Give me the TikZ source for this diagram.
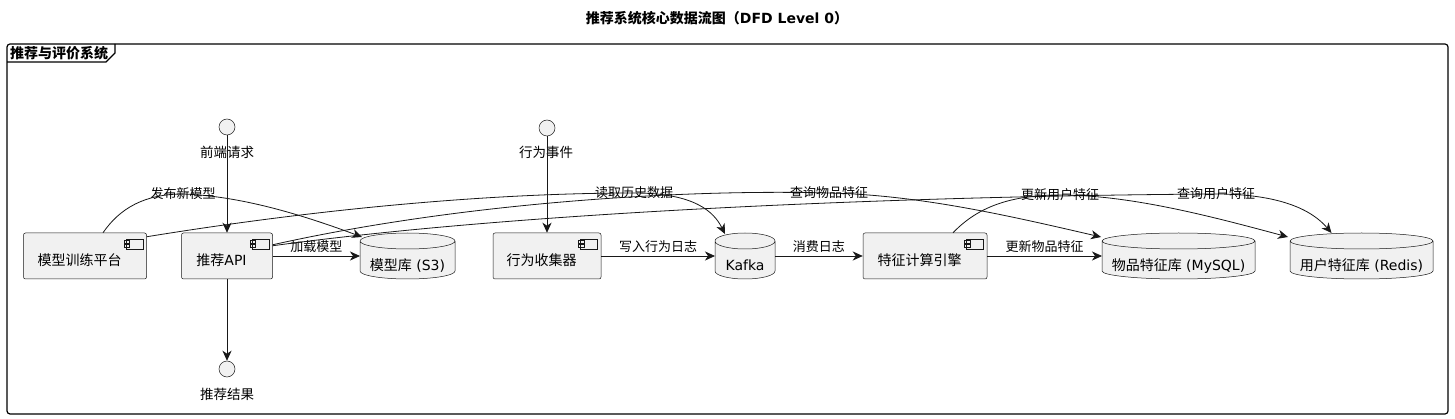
\documentclass[tikz,border=0pt]{standalone}
\usepackage{fontspec}
\setmainfont{DejaVu Sans}
\newfontfamily\cjk{Noto Sans CJK SC}
\usetikzlibrary{arrows.meta,backgrounds,calc}
\definecolor{umlfill}{HTML}{F1F1F1}
\definecolor{umlline}{HTML}{181818}
\tikzset{
  flow/.style={draw=umlline, line width=0.8pt, -{Stealth[length=10pt,width=9pt,inset=3pt]}},
  elabel/.style={font=\cjk\fontsize{13}{15}\selectfont, inner sep=1pt},
  itext/.style={font=\cjk\fontsize{13.5}{15}\selectfont, inner sep=1pt},
  titletext/.style={font=\bfseries\fontsize{14}{16}\selectfont, inner sep=1pt},
  frameline/.style={draw=black, line width=1.2pt},
  iface/.style={circle, draw=umlline, fill=umlfill, line width=0.5pt, minimum size=16pt, inner sep=0pt},
  comp/.style={draw=umlline, fill=umlfill, line width=0.5pt, rounded corners=2pt,
    minimum height=46pt, inner sep=3pt, font=\fontsize{14}{16}\selectfont,
    text height=22pt, text depth=2pt, execute at end node=\hspace*{11pt},
    path picture={
      \draw[umlline, fill=umlfill, line width=0.4pt, sharp corners]
        ([shift={(-20.5pt,-6pt)}]path picture bounding box.north east) rectangle ++(17pt,-10pt)
        ([shift={(-22.5pt,-7.7pt)}]path picture bounding box.north east) rectangle ++(5.5pt,-2.5pt)
        ([shift={(-22.5pt,-11.3pt)}]path picture bounding box.north east) rectangle ++(5.5pt,-2.5pt);
    }},
  store/.style={minimum height=46pt, inner sep=0pt, outer sep=0pt, font=\fontsize{14}{16}\selectfont,
    text height=32pt, text depth=2pt},
  dbshape/.style={draw=umlline, fill=umlfill, line width=0.5pt}
}
\begin{document}
\begin{tikzpicture}[x=1pt, y=-1pt]
\useasboundingbox (0,0) rectangle (1455,419);

% title and system frame
\node[titletext] (title) at (717,18) {{\cjk 推荐系统核心数据流图（}DFD Level 0{\cjk ）}};
\draw[frameline, rounded corners=3pt] (7,44) rectangle (1448,414);
\draw[frameline] (7,62) -- (106,62) -- (115,53) -- (115,44);
\node[titletext, anchor=west] (system) at (9,53) {\cjk 推荐与评价系统};

% components
\node[comp, minimum width=123pt] (train) at (85,256) {\cjk 模型训练平台};
\node[comp, minimum width=91pt] (api) at (227,256) {{\cjk 推荐}API};
\node[comp, minimum width=108pt] (collector) at (547,256) {\cjk 行为收集器};
\node[comp, minimum width=124pt] (engine) at (925,256) {\cjk 特征计算引擎};

% data stores
\node[store, minimum width=95pt] (s3) at (407.5,256) {{\cjk 模型库} (S3)};
\node[store, minimum width=60pt] (kafka) at (745,256) {Kafka};
\node[store, minimum width=153pt] (mysql) at (1178.5,256) {{\cjk 物品特征库} (MySQL)};
\node[store, minimum width=143pt] (redis) at (1361.5,256) {{\cjk 用户特征库} (Redis)};

\begin{scope}[on background layer]
  \fill[white] (0,0) rectangle (1455,419);
  \foreach \db in {s3,kafka,mysql,redis}
    \draw[dbshape] let \p1=(\db.north west), \p2=(\db.south east), \n1={(\x2-\x1)/2} in
      (\x1,\y1-8pt) -- (\x1,\y2+8pt)
      arc[start angle=180, end angle=360, x radius=\n1, y radius=8pt]
      -- (\x2,\y1-8pt)
      arc[start angle=0, end angle=180, x radius=\n1, y radius=8pt] -- cycle
      (\x1,\y1-8pt) arc[start angle=180, end angle=360, x radius=\n1, y radius=8pt];
\end{scope}

% interfaces
\node[iface] (req) at (227,127) {};
\node[itext] (reqtext) at (227,152.5) {前端请求};
\node[iface] (evt) at (547,128) {};
\node[itext] (evttext) at (546,152) {行为事件};
\node[iface] (res) at (227,369) {};
\node[itext] (restext) at (227,394.5) {推荐结果};

% straight flows
\draw[flow] (req) -- (api);
\draw[flow] (api) -- (res);
\draw[flow] (evt) -- (collector);
\draw[flow] (api) -- node[elabel, above=2pt] (loadtext) {加载模型} (s3);
\draw[flow] (collector) -- node[elabel, above=2pt] (writetext) {写入行为日志} (kafka);
\draw[flow] (kafka) -- node[elabel, above=2pt] (consumetext) {消费日志} (engine);
\draw[flow] (engine) -- node[elabel, above=2pt] (itemutext) {更新物品特征} (mysql);

% curved flows
\draw[flow] ([xshift=18pt]train.north) .. controls (120,208) and (145,194) .. (183,194)
  node[elabel] (pubtext) {发布新模型}
  .. controls (240,196) and (300,214) .. ([shift={(2pt,-4pt)}]s3.north west);
\draw[flow] ([yshift=-4pt]train.north east) .. controls (330,207) and (500,193) .. (634,193)
  node[elabel] (histtext) {读取历史数据}
  .. controls (695,193) and (714,212) .. ([shift={(-20pt,-1pt)}]kafka.north);
\draw[flow] ([yshift=-12pt]api.north east) .. controls (460,203) and (680,189) .. (829,193)
  node[elabel] (itemqtext) {查询物品特征}
  .. controls (920,195) and (1010,216) .. ([shift={(-1pt,-4pt)}]mysql.north west);
\draw[flow] ([yshift=-13pt]api.north east) .. controls (520,212) and (900,196) .. (1216,194)
  node[elabel] (userqtext) {查询用户特征}
  .. controls (1280,194) and (1312,210) .. ([xshift=-30pt]redis.north);
\draw[flow] ([xshift=28pt]engine.north) .. controls (975,210) and (1005,195) .. (1060,195)
  node[elabel] (userutext) {更新用户特征}
  .. controls (1130,195) and (1210,216) .. ([shift={(-2pt,-4pt)}]redis.north west);
\end{tikzpicture}
\end{document}
